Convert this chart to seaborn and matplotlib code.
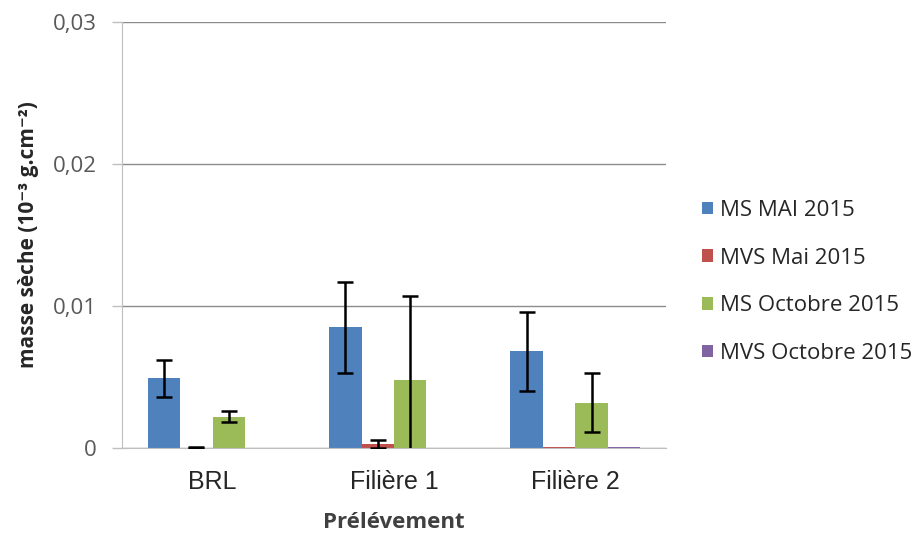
import matplotlib
matplotlib.use("Agg")
import matplotlib.pyplot as plt
import seaborn as sns
import pandas as pd

# values (10^-3 g.cm^-2)
sites = ["BRL", "Filière 1", "Filière 2"]
series = ["MS MAI 2015", "MVS Mai 2015", "MS Octobre 2015", "MVS Octobre 2015"]
ms_mai = [0.0049, 0.0085, 0.0068]
mvs_mai = [0.00002, 0.0003, 0.0001]
ms_oct = [0.0022, 0.0048, 0.0032]
mvs_oct = [0.0, 0.0, 0.0001]
err_ms_mai = [0.0013, 0.0032, 0.0028]
err_mvs_mai = [0.00002, 0.0003, 0.0]
err_ms_oct = [0.0004, 0.0059, 0.0021]
err_mvs_oct = [0.0, 0.0, 0.0]

colors = ["#4F81BD", "#C0504D", "#9BBB59", "#8064A2"]

values = [ms_mai, mvs_mai, ms_oct, mvs_oct]
errors = [err_ms_mai, err_mvs_mai, err_ms_oct, err_mvs_oct]
df = pd.DataFrame({
    "site": sites * 4,
    "serie": [s for s in series for _ in sites],
    "val": [v for vals in values for v in vals],
})

sns.set_style("white")
plt.rcParams["font.family"] = ["Open Sans", "DejaVu Sans"]

fig = plt.figure(figsize=(9.2, 5.34), dpi=100)
ax = fig.add_axes([0.1326, 0.161, 0.5913, 0.7978])

sns.barplot(data=df, x="site", y="val", hue="serie", hue_order=series,
            palette=colors, width=0.716, errorbar=None, saturation=1,
            linewidth=0, ax=ax)

# error bars at the bar centres (none where the error is zero)
for cont, err in zip(ax.containers, errors):
    pts = [(b.get_x() + b.get_width() / 2, b.get_height(), e)
           for b, e in zip(cont, err) if e > 0]
    if not pts:
        continue
    xs, hs, es = zip(*pts)
    ax.errorbar(xs, hs, yerr=es, fmt="none", ecolor="black",
                elinewidth=1.8, capsize=5.5, capthick=1.8, zorder=5)

ax.set_ylim(0, 0.03)
ax.set_xlim(-0.5, 2.5)
ax.set_yticks([0, 0.01, 0.02, 0.03])
ax.set_yticklabels(["0", "0,01", "0,02", "0,03"], color="#595959", fontsize=16)
ax.set_xticks([-0.5, 0.5, 1.5, 2.5], minor=True)
ax.tick_params(axis="x", which="major", length=0, pad=16, labelsize=18)
ax.tick_params(axis="x", which="minor", length=7, width=1, color="#bfbfbf")
ax.tick_params(axis="y", length=7, width=1, color="#bfbfbf", left=True, pad=11)
for lab in ax.get_xticklabels():
    lab.set_fontfamily("Liberation Sans")

ax.yaxis.grid(True, color="#8c8c8c", linewidth=1)
ax.set_axisbelow(True)
for side in ["top", "right"]:
    ax.spines[side].set_visible(False)
ax.spines["left"].set_color("#bfbfbf")
ax.spines["bottom"].set_color("#bfbfbf")

ax.set_xlabel("Prélévement", fontsize=16, fontweight="bold", color="#404040",
              labelpad=13)
ax.set_ylabel("masse sèche (10⁻³ g.cm⁻²)", fontsize=15, fontweight="bold",
              labelpad=10)

sns.move_legend(ax, "center left", bbox_to_anchor=(1.03, 0.39), frameon=False,
                title=None, fontsize=16, labelspacing=1.2, handlelength=0.5,
                handleheight=0.5, handletextpad=0.3)

fig.savefig("out.png", dpi=100)
